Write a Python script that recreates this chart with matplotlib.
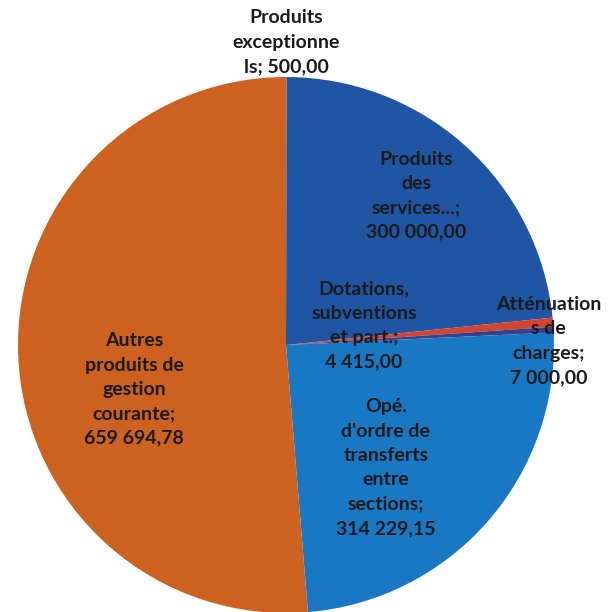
import numpy as np
import matplotlib.pyplot as plt

# Recettes de fonctionnement
labels = ["Produits\nexceptionne\nls; 500,00",
          "Produits\ndes\nservices...;\n300 000,00",
          "Atténuation\ns de\ncharges;\n7 000,00",
          "Dotations,\nsubventions\net part.;\n4 415,00",
          "Opé.\nd'ordre de\ntransferts\nentre\nsections;\n314 229,15",
          "Autres\nproduits de\ngestion\ncourante;\n659 694,78"]
values = [500.00, 300000.00, 7000.00, 4415.00, 314229.15, 659694.78]
colors = ["#d8692a", "#1f55a3", "#d2452e", "#3a3f8c", "#1878c4", "#cd611f"]

# label placement: radius (fraction of pie radius) and angle shift from wedge middle
label_r = [1.13, 0.74, 0.98, 0.30, 0.59, 0.59]
label_shift = [0, 1, -4, 11, -9.5, 14]

fig = plt.figure(figsize=(6.15, 6.12), dpi=100)
ax = fig.add_axes([0, 0, 1, 1])
wedges, _ = ax.pie(values, colors=colors, startangle=90, counterclock=False,
                   radius=1.0, wedgeprops=dict(linewidth=0))

for w, lab, r, sh in zip(wedges, labels, label_r, label_shift):
    mid = np.deg2rad((w.theta1 + w.theta2) / 2 + sh)
    ax.text(r * np.cos(mid), r * np.sin(mid), lab, ha="center", va="center",
            fontsize=14, fontweight="bold", family="Lato", color="#1a1a1a",
            linespacing=1.52)

ax.set_xlim(-286 / 268, 329 / 268)
ax.set_ylim(-267 / 268, 345 / 268)
ax.set_aspect("auto")
ax.axis("off")

fig.savefig("out.png", dpi=100)
